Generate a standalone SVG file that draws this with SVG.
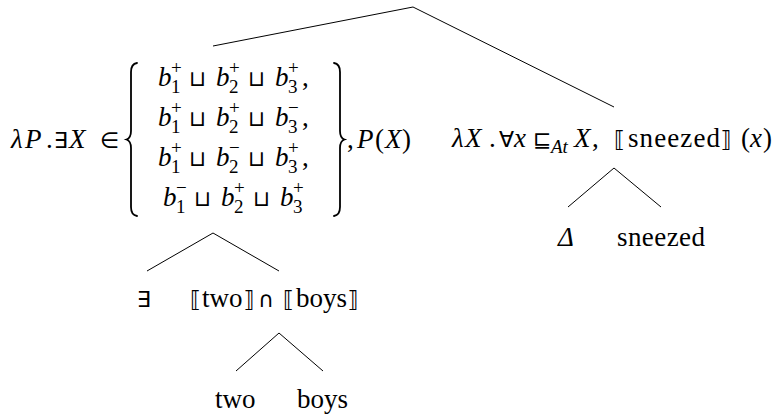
<svg xmlns="http://www.w3.org/2000/svg" width="778" height="416" viewBox="0 0 778 416">
<style>
.t{font-family:"Liberation Serif","Times New Roman",serif;font-size:27px;fill:#000}
.i{font-style:italic}
.s{font-family:"DejaVu Sans",sans-serif;font-size:22px;fill:#000}
.sc{font-family:"Liberation Serif","Times New Roman",serif;font-size:19px;fill:#000}
.e{stroke:#000;stroke-width:1;fill:none}
.br{stroke:#000;stroke-width:1.8;fill:none;stroke-linecap:round}
</style>
<defs>
<g id="rowbase">
<text class="t i" x="158" y="0">b</text><text class="sc" x="171" y="7">1</text>
<text class="s" x="189" y="0">⊔</text>
<text class="t i" x="216" y="0">b</text><text class="sc" x="229" y="7">2</text>
<text class="s" x="248" y="0">⊔</text>
<text class="t i" x="275" y="0">b</text><text class="sc" x="288" y="7">3</text>
</g>
</defs>
<g id="connectors">
<line class="e" x1="413" y1="7" x2="213" y2="46"/>
<line class="e" x1="413" y1="7" x2="614" y2="107"/>
<line class="e" x1="213" y1="233" x2="147" y2="271"/>
<line class="e" x1="213" y1="233" x2="279" y2="271"/>
<line class="e" x1="279" y1="333" x2="236" y2="371"/>
<line class="e" x1="279" y1="333" x2="323" y2="371"/>
<line class="e" x1="614" y1="168" x2="568" y2="207"/>
<line class="e" x1="614" y1="168" x2="661" y2="207"/>
</g>
<g id="node-left">
<text class="t i" x="11" y="148">λ</text><text class="t i" x="25" y="148">P</text>
<text class="t" x="46" y="148">.</text>
<text class="s" x="54" y="148">∃</text>
<text class="t i" x="69" y="148">X</text>
<text class="s" x="100" y="148">∈</text>
<path class="br" d="M137,63 Q131,64 131,72 L131,131 Q131,138 126.5,139.5 Q131,141 131,148 L131,207 Q131,215 137,216"/>
<use href="#rowbase" y="86"/>
<text class="sc" x="171" y="74">+</text><text class="sc" x="229" y="74">+</text><text class="sc" x="288" y="74">+</text>
<text class="t" x="302" y="86">,</text>
<use href="#rowbase" y="126"/>
<text class="sc" x="171" y="114">+</text><text class="sc" x="229" y="114">+</text><text class="sc" x="288" y="114">−</text>
<text class="t" x="302" y="126">,</text>
<use href="#rowbase" y="166"/>
<text class="sc" x="171" y="154">+</text><text class="sc" x="229" y="154">−</text><text class="sc" x="288" y="154">+</text>
<text class="t" x="302" y="166">,</text>
<use href="#rowbase" x="5" y="206"/>
<text class="sc" x="176" y="194">−</text><text class="sc" x="234" y="194">+</text><text class="sc" x="293" y="194">+</text>
<path class="br" d="M334,63 Q340,64 340,72 L340,131 Q340,138 344.5,139.5 Q340,141 340,148 L340,207 Q340,215 334,216"/>
<text class="t" x="347" y="148">,</text>
<text class="t i" x="357" y="148">P</text>
<text class="t" x="375" y="148">(</text>
<text class="t i" x="385" y="148">X</text>
<text class="t" x="402" y="148">)</text>
</g>
<g id="node-right">
<text class="t i" x="452" y="147">λ</text><text class="t i" x="465" y="147">X</text>
<text class="t" x="489" y="147">.</text>
<text class="s" x="499" y="147">∀</text>
<text class="t i" x="514" y="147">x</text>
<text class="s" x="533" y="147">⊑</text>
<text class="sc i" x="551" y="153">At</text>
<text class="t i" x="574" y="147">X</text>
<text class="t" x="592" y="147">,</text>
<text class="s" x="614" y="147">⟦</text>
<text class="t" x="628" y="147" textLength="92" lengthAdjust="spacing">sneezed</text>
<text class="s" x="721" y="147">⟧</text>
<text class="t" x="741" y="147">(</text>
<text class="t i" x="750" y="147">x</text>
<text class="t" x="763" y="147">)</text>
</g>
<g id="node-exists">
<text class="s" x="137" y="307">∃</text>
</g>
<g id="node-twoboys">
<text class="s" x="190" y="307">⟦</text>
<text class="t" x="202" y="307">two</text>
<text class="s" x="244" y="307">⟧</text>
<text class="s" x="258" y="307">∩</text>
<text class="s" x="283" y="307">⟦</text>
<text class="t" x="296" y="307">boys</text>
<text class="s" x="348" y="307">⟧</text>
</g>
<g id="leaf-two">
<text class="t" x="215" y="408">two</text>
</g>
<g id="leaf-boys">
<text class="t" x="297" y="408">boys</text>
</g>
<g id="leaf-delta">
<text class="t i" x="558" y="246">Δ</text>
</g>
<g id="leaf-sneezed">
<text class="t" x="617" y="246" textLength="88" lengthAdjust="spacing">sneezed</text>
</g>
</svg>
